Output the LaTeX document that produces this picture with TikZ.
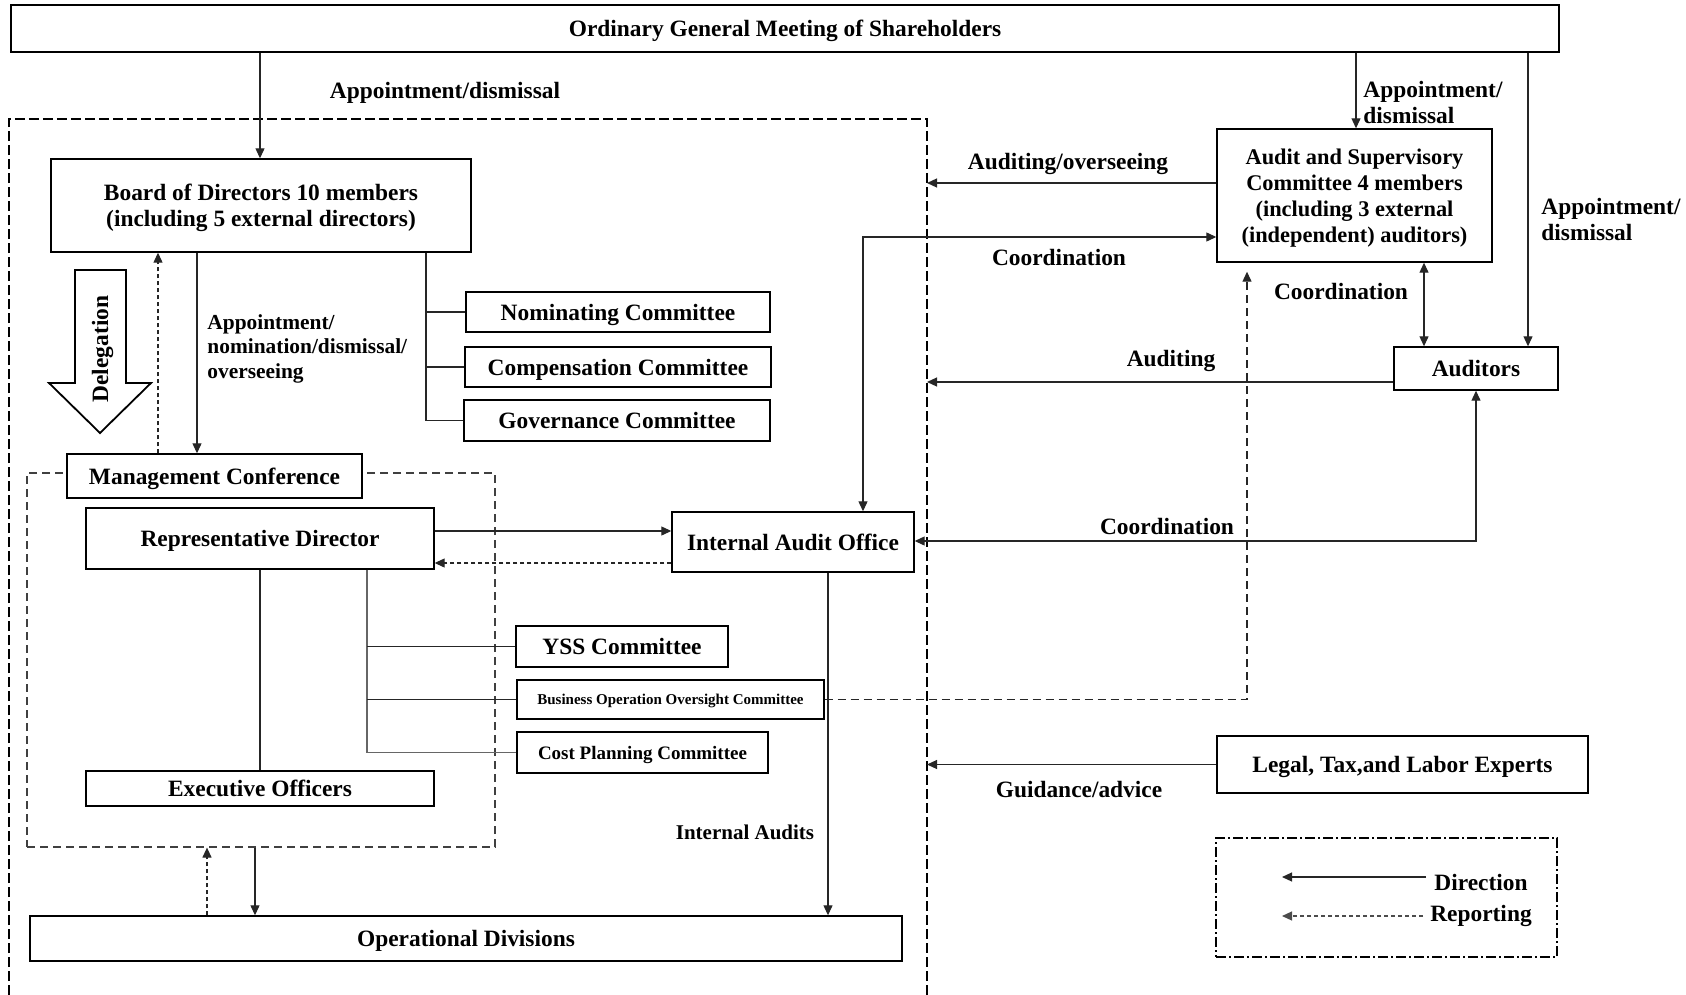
\documentclass[tikz,border=0pt]{standalone}
\usepackage{fontspec}
\setmainfont{Liberation Serif}
\usetikzlibrary{arrows.meta,calc}
\newcommand\fa{\fontsize{11.7}{13}\selectfont\bfseries}
\newcommand\fb{\fontsize{10.7}{12.25}\selectfont\bfseries}
\newcommand\fc{\fontsize{11.2}{13}\selectfont\bfseries}
\begin{document}
\begin{tikzpicture}[x=0.5pt,y=-0.5pt,
  box/.style={draw, line width=0.7pt, inner sep=0pt, fill=white, align=center, font=\fa, text depth=0pt},
  ln/.style={line width=0.6pt, draw=black!85},
  arr/.style={ln, -{Triangle[length=5pt,width=4.5pt]}},
  dbl/.style={ln, {Triangle[length=5pt,width=4.5pt]}-{Triangle[length=5pt,width=4.5pt]}},
  rep/.style={arr, dash pattern=on 2pt off 1.5pt},
  lbl/.style={font=\fa, inner sep=0pt, text depth=0pt},
  odash/.style={line width=0.6pt, dash pattern=on 5pt off 2pt},
  idash/.style={draw=black!75, line width=0.6pt, dash pattern=on 4pt off 2.5pt}]
\useasboundingbox (0,0) rectangle (1686,995);

% outer dashed frame (open at bottom)
\draw[odash] (9,995) -- (9,119) -- (927,119) -- (927,995);
\coordinate (otr) at (927,119);

% top box
\node[box, minimum width=774pt, minimum height=23.5pt] (og) at (785,28.5) {Ordinary General Meeting of Shareholders};

% board
\node[box, minimum width=210pt, minimum height=46.5pt] (board) at (261,205.5) {Board of Directors 10 members\\(including 5 external directors)};
\node[lbl] (lapp) at (445,90) {Appointment/dismissal};
\draw[arr] (260,0 |- og.south) -- (260,0 |- board.north);

% board committees
\node[box, minimum width=152pt, minimum height=20pt] (nom) at (618,312) {Nominating Committee};
\node[box, minimum width=153pt, minimum height=20pt] (comp) at (618,367) {Compensation Committee};
\node[box, minimum width=153pt, minimum height=20.5pt] (gov) at (617,420.5) {Governance Committee};
\draw[ln] (426,0 |- board.south) |- (gov.west);
\draw[ln] (426,0 |- nom.west) -- (nom.west);
\draw[ln] (426,0 |- comp.west) -- (comp.west);

% delegation arrow
\draw[line width=0.9pt, fill=white] (75,270) -- (126,270) -- (126,383) -- (151,383) -- (100,433) -- (49,383) -- (75,383) -- cycle;
\node[lbl, rotate=90] (deleg) at (100,349) {Delegation};

% management block
\node[idash, minimum width=234pt, minimum height=187pt, inner sep=0pt] (mgmt) at (261,660) {};
\node[box, minimum width=147.5pt, minimum height=22pt] (mc) at (214.5,476) {Management Conference};
\draw[rep] (158,0 |- mc.north) -- (158,0 |- board.south);
\draw[arr] (197,0 |- board.south) -- (197,0 |- mc.north);
\node[font=\fb, align=left, anchor=north west, inner sep=0pt] (lnom) at (207,314) {Appointment/\\nomination/dismissal/\\overseeing};

\node[box, minimum width=174pt, minimum height=30.5pt] (rd) at (260,538.5) {Representative Director};
\node[box, minimum width=174pt, minimum height=17.5pt] (exec) at (260,788.5) {Executive Officers};
\draw[ln] (rd.south) -- (exec.north);

% RD committees
\node[box, minimum width=106pt, minimum height=20.5pt] (yss) at (622,646.5) {YSS Committee};
\node[box, minimum width=153.5pt, minimum height=19.5pt, font=\fontsize{7.5}{9}\selectfont\bfseries] (booc) at (670.5,699.5) {Business Operation Oversight Committee};
\node[box, minimum width=125.5pt, minimum height=20.5pt, font=\fontsize{9.5}{11}\selectfont\bfseries] (cost) at (642.5,752.5) {Cost Planning Committee};
\draw[ln, draw=black!60] (367,0 |- rd.south) |- (cost.west);
\draw[ln] (367,0 |- yss.west) -- (yss.west);
\draw[ln] (367,0 |- booc.west) -- (booc.west);

% internal audit office
\node[box, minimum width=121pt, minimum height=30pt] (iao) at (793,542) {Internal Audit Office};
\draw[arr] (rd.east |- 0,531) -- (iao.west |- 0,531);
\draw[rep] (iao.west |- 0,563) -- (rd.east |- 0,563);

% operational divisions
\node[box, minimum width=436pt, minimum height=22.5pt] (opd) at (466,938.5) {Operational Divisions};
\draw[rep] (207,0 |- opd.north) -- (207,0 |- mgmt.south);
\draw[arr] (255,0 |- mgmt.south) -- (255,0 |- opd.north);
\draw[arr] (828,0 |- iao.south) -- (828,0 |- opd.north);
\node[lbl, font=\fontsize{10.5}{12}\selectfont\bfseries] (lia) at (745,832) {Internal Audits};

% audit and supervisory committee
\node[box, minimum width=137.5pt, minimum height=66.5pt, font=\fc] (asc) at (1354.5,195.5) {Audit and Supervisory\\Committee 4 members\\(including 3 external\\(independent) auditors)};
\draw[arr] (1356,0 |- og.south) -- (1356,0 |- asc.north);
\node[lbl, align=left, anchor=west] (lasc) at (1363,102) {Appointment/\\dismissal};

% auditors
\node[box, minimum width=82pt, minimum height=21.5pt] (aud) at (1476,368.5) {Auditors};
\draw[arr] (1528,0 |- og.south) -- (1528,0 |- aud.north);
\node[lbl, align=left, anchor=west] (laud) at (1541,219) {Appointment/\\dismissal};
\draw[dbl] (1424,0 |- asc.south) -- (1424,0 |- aud.north);
\node[lbl] (lco2) at (1341,291) {Coordination};

% arrows to the outer frame
\draw[arr] (asc.west |- 0,183) -- (otr |- 0,183);
\node[lbl] (lao) at (1068,161) {Auditing/overseeing};
\draw[dbl] (863,0 |- iao.north) |- (asc.west |- 0,237);
\node[lbl] (lco1) at (1059,257) {Coordination};
\draw[arr] (aud.west |- 0,382) -- (otr |- 0,382);
\node[lbl] (laudit) at (1171,358) {Auditing};
\draw[dbl] (aud.south) |- (iao.east |- 0,541);
\node[lbl] (lco3) at (1167,526) {Coordination};
\draw[rep, dash pattern=on 4pt off 2.5pt, shorten >=4.5pt] (booc.east) -| (1247,0 |- asc.south);

% legal experts
\node[box, minimum width=185.5pt, minimum height=28.5pt] (legal) at (1402.5,764.5) {Legal, Tax,and Labor Experts};
\draw[arr] (legal.west) -- (otr |- legal.west);
\node[lbl] (lga) at (1079,789) {Guidance/advice};

% legend
\node[draw, line width=0.6pt, dash pattern=on 5pt off 1.5pt on 1pt off 1.5pt, minimum width=170.5pt, minimum height=59.5pt, inner sep=0pt] (legend) at (1386.5,897.5) {};
\node[lbl] (ldir) at (1481,882) {Direction};
\node[lbl] (lrep) at (1481,913) {Reporting};
\coordinate (ld) at (1282,877);
\coordinate (lr) at (1282,916);
\draw[arr] (ld -| 1426,0) -- (ld);
\draw[rep, draw=black!70] (lr -| 1423,0) -- (lr);
\end{tikzpicture}
\end{document}
